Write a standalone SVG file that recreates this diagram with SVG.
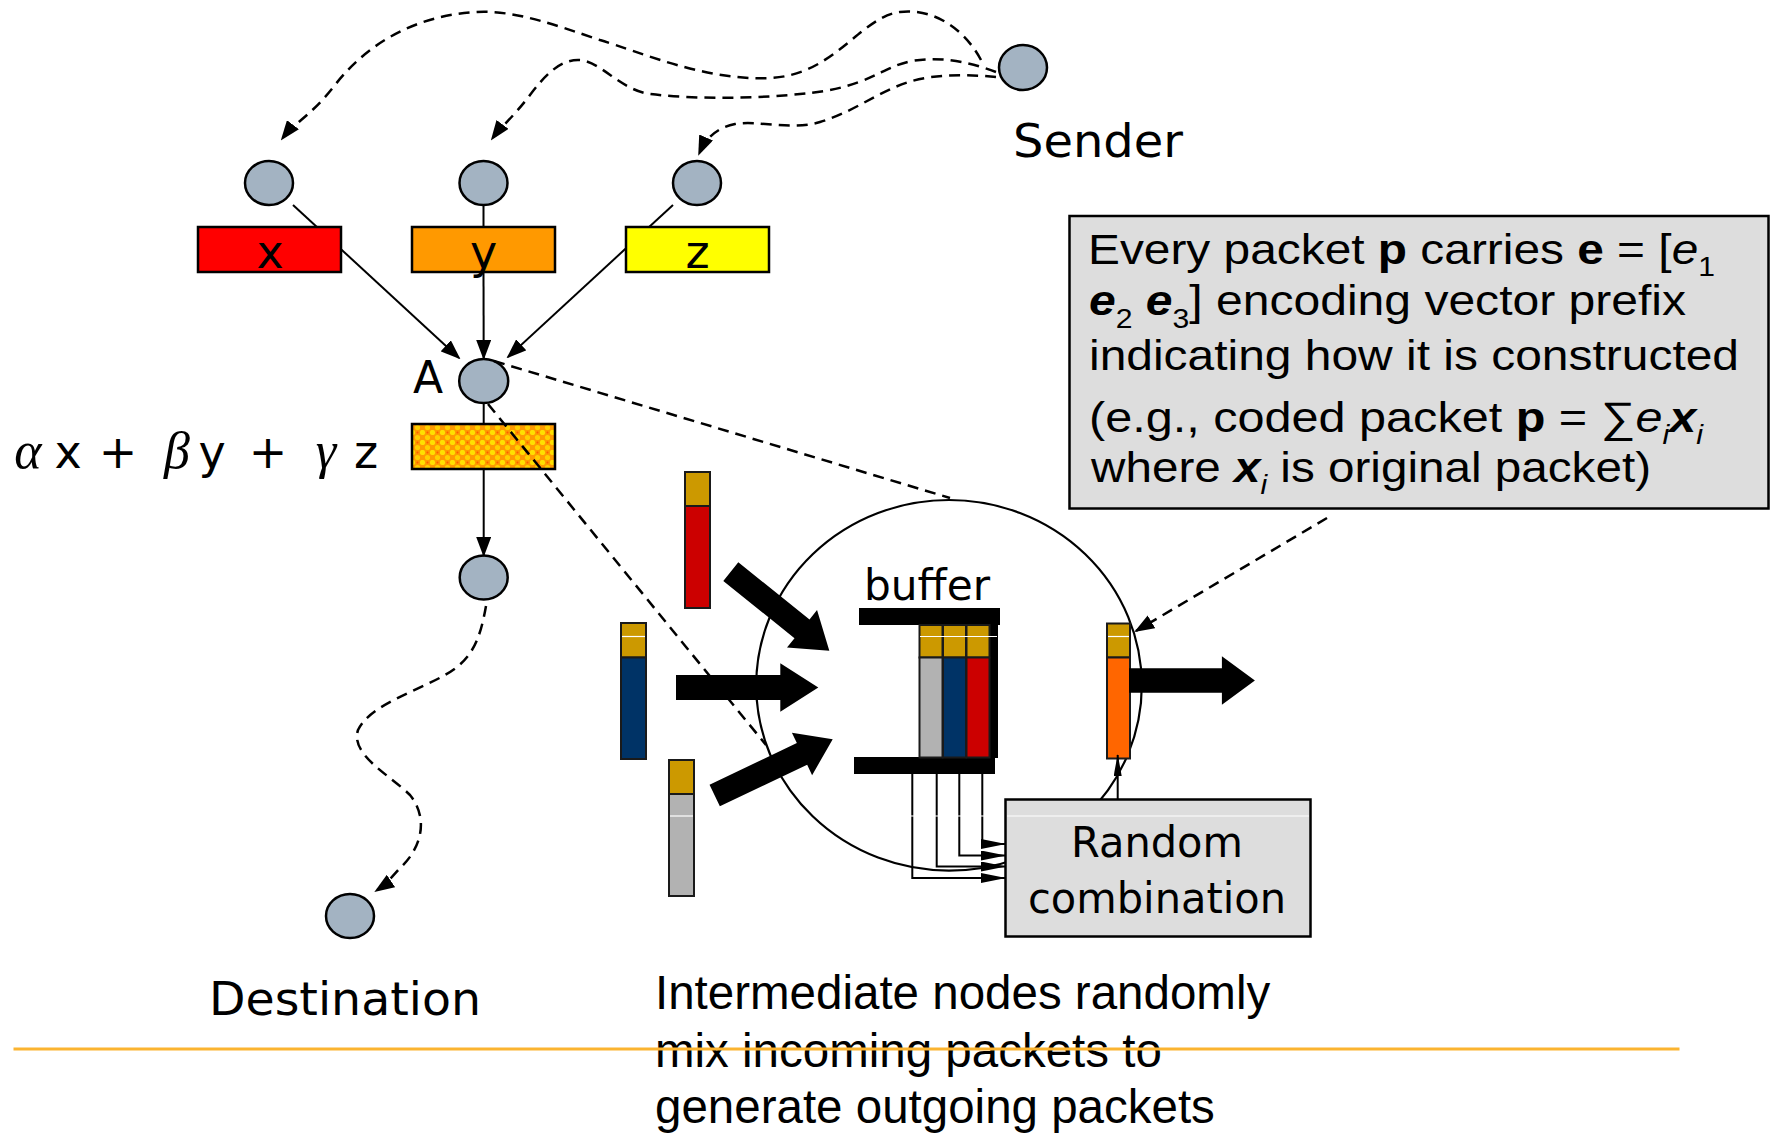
<svg xmlns="http://www.w3.org/2000/svg" width="1771" height="1133" viewBox="0 0 1771 1133">
<defs>
<style>
.node{fill:#a3b3c2;stroke:#000;stroke-width:2.5}
.ln{stroke:#000;stroke-width:2;fill:none}
.dash{stroke:#000;stroke-width:2.5;fill:none;stroke-dasharray:11 7}
.lbl{font-family:"DejaVu Sans",Verdana,sans-serif;fill:#000}
.arial{font-family:"Liberation Sans",Arial,sans-serif;fill:#000}
.greek{font-family:"Liberation Serif","DejaVu Serif",serif;font-style:italic}
.pk{stroke:#1a1a1a;stroke-width:2}
.gold{fill:#cc9900}
.box{stroke:#000;stroke-width:2.5}
.gbox{fill:#dddddd;stroke:#000;stroke-width:2.5}
.wl{stroke:#fff;stroke-width:1.2}
</style>
<marker id="ah" markerUnits="userSpaceOnUse" markerWidth="20" markerHeight="15" refX="18" refY="7.5" orient="auto"><path d="M0,0 L20,7.5 L0,15 z" fill="#000"/></marker>
<marker id="ahs" markerUnits="userSpaceOnUse" markerWidth="25" markerHeight="10" refX="24" refY="5" orient="auto"><path d="M0,0 L25,5 L0,10 z" fill="#000"/></marker>
<marker id="ahn" markerUnits="userSpaceOnUse" markerWidth="22" markerHeight="8" refX="21" refY="4" orient="auto"><path d="M0,0 L22,4 L0,8 z" fill="#000"/></marker>
<pattern id="hatch" patternUnits="userSpaceOnUse" width="10" height="10">
<rect width="10" height="10" fill="#ff9a00"/>
<circle cx="2.5" cy="2.5" r="2.6" fill="#ffe000"/>
<circle cx="7.5" cy="7.5" r="2.6" fill="#ffd000"/>
<circle cx="7.5" cy="2.5" r="1" fill="#ff5a00"/>
</pattern>
</defs>
<rect width="1771" height="1133" fill="#fff"/>

<g id="zoom-circle">
<ellipse cx="949" cy="685.3" rx="192.8" ry="185.3" fill="none" stroke="#000" stroke-width="2.2"/>
</g>

<g id="packet-red">
<rect class="pk gold" x="685" y="472" width="25" height="34"/>
<rect class="pk" x="685" y="506" width="25" height="102" fill="#cc0000"/>
</g>
<g id="packet-blue">
<rect class="pk gold" x="621" y="623" width="25" height="34.5"/>
<rect class="pk" x="621" y="657.5" width="25" height="101.5" fill="#003366"/>
</g>
<g id="packet-gray">
<rect class="pk gold" x="669" y="760" width="25" height="34"/>
<rect class="pk" x="669" y="794" width="25" height="102" fill="#b2b2b2"/>
</g>

<g id="in-arrows" fill="#000">
<polygon transform="translate(730.8,571.7) rotate(38.73)" points="0,-12 91.3,-12 91.3,-24 126.3,0 91.3,24 91.3,12 0,12"/>
<polygon transform="translate(676,687.5)" points="0,-12.5 104.3,-12.5 104.3,-24.2 142.3,0 104.3,24.2 104.3,12.5 0,12.5"/>
<polygon transform="translate(714.7,795.5) rotate(-25.46)" points="0,-12 96.7,-12 96.7,-23.5 130.7,0 96.7,23.5 96.7,12 0,12"/>
</g>

<g id="buffer">
<rect x="859" y="608" width="141" height="17" fill="#000"/>
<rect x="854" y="757" width="141" height="17" fill="#000"/>
<rect x="989" y="625" width="9" height="133" fill="#000"/>
<rect class="pk gold" x="919.5" y="625" width="23" height="32.5"/>
<rect class="pk" x="919.5" y="657.5" width="23" height="100" fill="#b2b2b2"/>
<rect class="pk gold" x="943" y="625" width="23" height="32.5"/>
<rect class="pk" x="943" y="657.5" width="23" height="100" fill="#003366"/>
<rect class="pk gold" x="966.5" y="625" width="23" height="32.5"/>
<rect class="pk" x="966.5" y="657.5" width="23" height="100" fill="#cc0000"/>
<text class="lbl" x="864" y="600" font-size="43" textLength="126" lengthAdjust="spacingAndGlyphs">buffer</text>
</g>

<g id="packet-out">
<rect class="pk gold" x="1107" y="623.5" width="23" height="34"/>
<rect class="pk" x="1107" y="657.5" width="23" height="101" fill="#ff6600"/>
<polygon transform="translate(1129,680.5)" points="0,-12.2 92.9,-12.2 92.9,-24.3 125.9,0 92.9,24.3 92.9,12.2 0,12.2" fill="#000"/>
</g>

<g id="random-combination">
<rect class="gbox" x="1005.5" y="799.5" width="305" height="137"/>
<text class="lbl" x="1157" y="857" font-size="43" text-anchor="middle" textLength="172" lengthAdjust="spacingAndGlyphs">Random</text>
<text class="lbl" x="1157" y="913" font-size="43" text-anchor="middle" textLength="258" lengthAdjust="spacingAndGlyphs">combination</text>
</g>

<g id="callout">
<rect class="gbox" x="1069.5" y="216" width="699" height="292.5"/>
<text class="arial" x="1088" y="264" font-size="43" textLength="627" lengthAdjust="spacingAndGlyphs">Every packet <tspan font-weight="bold">p</tspan> carries <tspan font-weight="bold">e</tspan> = [<tspan font-style="italic">e</tspan><tspan font-size="27" dy="12">1</tspan></text>
<text class="arial" x="1089" y="315" font-size="43" textLength="597" lengthAdjust="spacingAndGlyphs"><tspan font-weight="bold" font-style="italic">e</tspan><tspan font-size="27" dy="13">2</tspan><tspan dy="-13"> </tspan><tspan font-weight="bold" font-style="italic">e</tspan><tspan font-size="27" dy="13">3</tspan><tspan dy="-13">] encoding vector prefix</tspan></text>
<text class="arial" x="1089" y="370" font-size="43" textLength="650" lengthAdjust="spacingAndGlyphs">indicating how it is constructed</text>
<text class="arial" x="1089" y="432" font-size="43" textLength="614" lengthAdjust="spacingAndGlyphs">(e.g., coded packet <tspan font-weight="bold">p</tspan> = ∑<tspan font-style="italic">e</tspan><tspan font-size="27" font-style="italic" dy="12">i</tspan><tspan font-weight="bold" font-style="italic" dy="-12">x</tspan><tspan font-size="27" font-style="italic" dy="12">i</tspan></text>
<text class="arial" x="1091" y="482" font-size="43" textLength="560" lengthAdjust="spacingAndGlyphs">where <tspan font-weight="bold" font-style="italic">x</tspan><tspan font-size="27" font-style="italic" dy="12">i</tspan><tspan dy="-12"> is original packet)</tspan></text>
</g>

<g id="node-sender">
<ellipse class="node" cx="1023" cy="67.5" rx="24" ry="22.5"/>
<text class="lbl" x="1013" y="157" font-size="46" textLength="170" lengthAdjust="spacingAndGlyphs">Sender</text>
</g>
<g id="node-x">
<ellipse class="node" cx="269" cy="183" rx="24" ry="22"/>
<rect class="box" x="198" y="227" width="143" height="45" fill="#ff0000"/>
<text class="lbl" x="270" y="268" font-size="46" text-anchor="middle">x</text>
</g>
<g id="node-y">
<ellipse class="node" cx="483.5" cy="183" rx="24" ry="22"/>
<rect class="box" x="412" y="227" width="143" height="45" fill="#ff9900"/>
<text class="lbl" x="483.5" y="268" font-size="46" text-anchor="middle">y</text>
</g>
<g id="node-z">
<ellipse class="node" cx="697" cy="183" rx="24" ry="22"/>
<rect class="box" x="626" y="227" width="143" height="45" fill="#ffff00"/>
<text class="lbl" x="697.5" y="268" font-size="46" text-anchor="middle">z</text>
</g>
<g id="node-A">
<ellipse class="node" cx="483.7" cy="381" rx="24.5" ry="22"/>
<text class="lbl" x="413" y="393" font-size="44">A</text>
<rect class="box" x="412" y="424" width="143" height="45" fill="url(#hatch)"/>
<text class="lbl" y="468" font-size="46" text-anchor="middle"><tspan class="greek" x="28" font-size="52">α</tspan><tspan x="68">x</tspan><tspan x="118">+</tspan><tspan class="greek" x="177" font-size="52">β</tspan><tspan x="212">y</tspan><tspan x="268">+</tspan><tspan class="greek" x="326" font-size="52">γ</tspan><tspan x="366">z</tspan></text>
</g>
<g id="node-relay">
<ellipse class="node" cx="483.7" cy="577.5" rx="24" ry="22"/>
</g>
<g id="node-destination">
<ellipse class="node" cx="350" cy="916" rx="24" ry="22"/>
<text class="lbl" x="209" y="1014.5" font-size="46" textLength="272" lengthAdjust="spacingAndGlyphs">Destination</text>
</g>

<g id="caption">
<text class="arial" x="655" y="1009" font-size="47.5">Intermediate nodes randomly</text>
<text class="arial" x="655" y="1066.5" font-size="47.5">mix incoming packets to</text>
<text class="arial" x="655" y="1123" font-size="47.5">generate outgoing packets</text>
</g>

<g id="connectors">
<line class="ln" x1="293" y1="205" x2="316.9" y2="227"/>
<line class="ln" x1="341" y1="249.2" x2="459" y2="358" marker-end="url(#ah)"/>
<line class="ln" x1="483.5" y1="205" x2="483.5" y2="227"/>
<line class="ln" x1="483.5" y1="272" x2="483.7" y2="358" marker-end="url(#ah)"/>
<line class="ln" x1="673" y1="205" x2="649.1" y2="227"/>
<line class="ln" x1="626" y1="248.3" x2="508" y2="357" marker-end="url(#ah)"/>
<line class="ln" x1="483.7" y1="403" x2="483.7" y2="424"/>
<line class="ln" x1="483.7" y1="469" x2="483.7" y2="555" marker-end="url(#ah)"/>
<path class="dash" d="M981,60 C965,30 935,8 900,12 C860,17 835,75 770,78 C705,81 640,52 600,40 C555,25 515,10 477,12 C420,15 370,40 335,85 C312,115 295,122 282,139" marker-end="url(#ah)"/>
<path class="dash" d="M996,72 C970,62 940,56 912,61 C880,67 870,88 800,94 C760,98 700,100 650,94 C620,90 600,60 578,60 C560,60 545,75 530,95 C515,115 500,128 492,139" marker-end="url(#ah)"/>
<path class="dash" d="M996,77 C975,75 950,74 925,78 C885,85 860,110 820,122 C790,131 760,120 735,124 C715,128 705,140 699,154" marker-end="url(#ah)"/>
<path class="dash" d="M486,606 C480,640 472,660 445,675 C415,692 370,705 358,730 C350,755 390,775 410,795 C430,820 420,850 400,868 C392,877 385,885 376,891" marker-end="url(#ah)"/>
<line class="dash" x1="494" y1="361" x2="950" y2="498"/>
<line class="dash" x1="488" y1="404" x2="766" y2="745"/>
<line class="dash" x1="1327" y1="518" x2="1136" y2="631" marker-end="url(#ah)"/>
<polyline class="ln" points="982.3,774 982.3,844 1005,844" marker-end="url(#ahs)"/>
<polyline class="ln" points="959.3,774 959.3,855.5 1005,855.5" marker-end="url(#ahs)"/>
<polyline class="ln" points="936.7,774 936.7,866.5 1005,866.5" marker-end="url(#ahs)"/>
<polyline class="ln" points="912.3,774 912.3,878 1005,878" marker-end="url(#ahs)"/>
<line class="ln" x1="1117.7" y1="799" x2="1117.7" y2="755" marker-end="url(#ahn)"/>
</g>

<g id="artifacts">
<line class="wl" x1="622" y1="636.5" x2="645" y2="636.5"/>
<line class="wl" x1="920" y1="636.5" x2="997" y2="636.5"/>
<line class="wl" x1="1108" y1="636.5" x2="1129" y2="636.5"/>
<line class="wl" x1="670" y1="816" x2="693" y2="816"/>
<line class="wl" x1="911" y1="816" x2="984" y2="816"/>
<line class="wl" x1="1007" y1="816" x2="1309" y2="816"/>
</g>

<line x1="13.5" y1="1049" x2="1679.5" y2="1049" stroke="#fbb430" stroke-width="3"/>
</svg>
